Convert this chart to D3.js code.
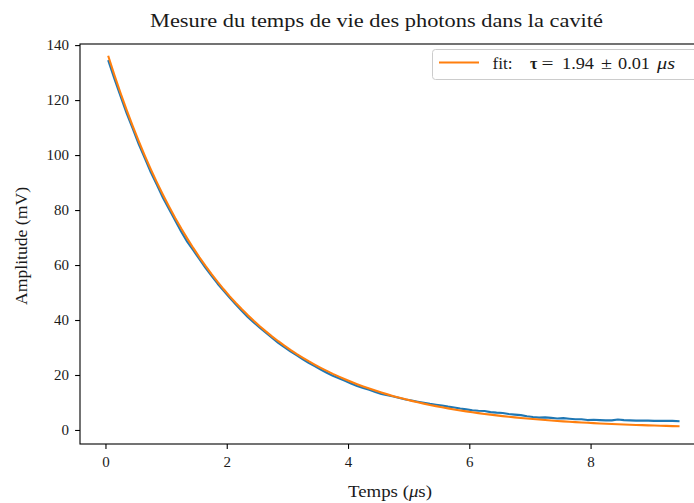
<!DOCTYPE html>
<html><head><meta charset="utf-8">
<script src="https://cdn.jsdelivr.net/npm/d3@7"></script>
<style>
body{margin:0;background:#fff;}
svg{display:block;font-family:"Liberation Serif","DejaVu Serif",serif;}
</style></head>
<body><svg id="c" width="694" height="503"></svg>
<script>
const time = [0.05,0.15,0.25,0.35,0.45,0.55,0.65,0.75,0.85,0.95,1.05,1.15,1.25,1.35,1.45,1.55,1.65,1.75,1.85,1.95,2.05,2.15,2.25,2.35,2.45,2.55,2.65,2.75,2.85,2.95,3.05,3.15,3.25,3.35,3.45,3.55,3.65,3.75,3.85,3.95,4.05,4.15,4.25,4.35,4.45,4.55,4.65,4.75,4.85,4.95,5.05,5.15,5.25,5.35,5.45,5.55,5.65,5.75,5.85,5.95,6.05,6.15,6.25,6.35,6.45,6.55,6.65,6.75,6.85,6.95,7.05,7.15,7.25,7.35,7.45,7.55,7.65,7.75,7.85,7.95,8.05,8.15,8.25,8.35,8.45,8.55,8.65,8.75,8.85,8.95,9.05,9.15,9.25,9.35,9.45];
const measured = [134.2,127.6,121.3,115.2,109.6,103.9,98.8,93.6,89.1,84.4,80.3,76.2,72.1,68.4,65.3,62.1,59.0,56.1,53.2,50.6,48.1,45.6,43.3,41.0,39.0,37.1,35.3,33.5,31.7,30.1,28.6,27.2,25.8,24.4,23.2,22.0,20.8,19.7,18.8,17.9,16.9,16.0,15.3,14.6,13.8,13.1,12.6,12.2,11.6,11.1,10.7,10.3,9.9,9.5,9.2,8.9,8.5,8.2,7.8,7.5,7.2,7.0,6.9,6.5,6.3,6.2,5.8,5.6,5.4,5.0,4.7,4.5,4.6,4.4,4.2,4.3,4.1,3.9,3.9,3.6,3.7,3.6,3.5,3.5,3.8,3.6,3.5,3.4,3.4,3.4,3.3,3.3,3.3,3.3,3.2];
const fitValues = [135.76,128.95,122.49,116.35,110.52,104.98,99.72,94.73,89.98,85.48,81.20,77.13,73.27,69.61,66.12,62.82,59.68,56.69,53.86,51.17,48.61,46.19,43.88,41.69,39.61,37.64,35.76,33.98,32.29,30.68,29.15,27.70,26.33,25.02,23.78,22.60,21.48,20.41,19.40,18.44,17.53,16.67,15.84,15.06,14.32,13.62,12.95,12.31,11.71,11.14,10.59,10.07,9.58,9.12,8.67,8.25,7.85,7.47,7.11,6.77,6.45,6.14,5.84,5.57,5.30,5.05,4.81,4.59,4.37,4.17,3.97,3.79,3.61,3.45,3.29,3.14,3.00,2.86,2.73,2.61,2.49,2.38,2.28,2.18,2.09,2.00,1.91,1.83,1.75,1.68,1.61,1.55,1.48,1.42,1.37];
const xTicks = [0,2,4,6,8];
const yTicks = [0,20,40,60,80,100,120,140];
const titleText = "Mesure du temps de vie des photons dans la cavité";
const yLabel = "Amplitude (mV)";

const svg = d3.select("#c");
const L=80, R=707, T=44, B=444;
const x = d3.scaleLinear().domain([-0.42, 9.92]).range([L, R]);
const y = d3.scaleLinear().domain([-5.1, 140.4]).range([B, T]);

const line = d3.line().x((d,i)=>x(time[i])).y(d=>y(d));
svg.append("path").datum(measured).attr("d", line)
  .attr("fill","none").attr("stroke","#1f77b4").attr("stroke-width",2.1).attr("stroke-linejoin","round").attr("stroke-linecap","square");
svg.append("path").datum(fitValues).attr("d", line)
  .attr("fill","none").attr("stroke","#ff7f0e").attr("stroke-width",2.1).attr("stroke-linejoin","round").attr("stroke-linecap","square");

// axes
const xa = svg.append("g").attr("transform",`translate(0,${B})`)
  .call(d3.axisBottom(x).tickValues(xTicks).tickSize(4.9).tickPadding(7).tickFormat(d3.format("d")));
const ya = svg.append("g").attr("transform",`translate(${L},0)`)
  .call(d3.axisLeft(y).tickValues(yTicks).tickSize(4.9).tickPadding(6).tickFormat(d3.format("d")));
[xa,ya].forEach(g=>{
  g.select(".domain").remove();
  g.selectAll(".tick line").attr("stroke","#000").attr("stroke-width",1.1);
  g.selectAll(".tick text").attr("font-family","Liberation Serif, serif").attr("font-size",15).attr("fill","#1a1a1a");
});
// spines
svg.append("rect").attr("x",L).attr("y",T).attr("width",R-L).attr("height",B-T)
  .attr("fill","none").attr("stroke","#000").attr("stroke-width",1.1);

// title
svg.append("text").attr("x",376.5).attr("y",27).attr("text-anchor","middle")
  .attr("font-size",19).attr("fill","#1a1a1a")
  .attr("textLength",453).attr("lengthAdjust","spacingAndGlyphs").text(titleText);
// x label
svg.append("text").attr("x",390).attr("y",497).attr("text-anchor","middle")
  .attr("font-size",16).attr("fill","#1a1a1a")
  .attr("textLength",84).attr("lengthAdjust","spacingAndGlyphs")
  .call(t=>{t.append("tspan").text("Temps (");t.append("tspan").attr("font-style","italic").text("μ");t.append("tspan").text("s)");});
// y label
svg.append("text").attr("transform","translate(27,246) rotate(-90)").attr("text-anchor","middle")
  .attr("font-size",16).attr("fill","#1a1a1a")
  .attr("textLength",118).attr("lengthAdjust","spacingAndGlyphs").text(yLabel);

// legend
const lg = svg.append("g");
lg.append("rect").attr("x",432.5).attr("y",49.5).attr("width",270).attr("height",30).attr("rx",3)
  .attr("fill","#fff").attr("fill-opacity",0.8).attr("stroke","#cccccc").attr("stroke-width",1);
lg.append("line").attr("x1",439).attr("x2",479).attr("y1",62.5).attr("y2",62.5)
  .attr("stroke","#ff7f0e").attr("stroke-width",2.1);
const parts = [
  {s:"fit:", x:492.5, w:20},
  {s:"τ", x:530, bold:true},
  {s:"=", x:541.5, w:12},
  {s:"1.94", x:562, w:32},
  {s:"±", x:601, w:11},
  {s:"0.01", x:618, w:32},
  {s:"μs", x:657, italic:true, w:18}
];
parts.forEach(p=>{
  const t = lg.append("text").attr("x",p.x).attr("y",68.5).attr("font-size",16).attr("fill","#1a1a1a")
    .attr("font-weight",p.bold?"bold":null).attr("font-style",p.italic?"italic":null).text(p.s);
  if(p.w) t.attr("textLength",p.w).attr("lengthAdjust","spacingAndGlyphs");
});
</script></body></html>
